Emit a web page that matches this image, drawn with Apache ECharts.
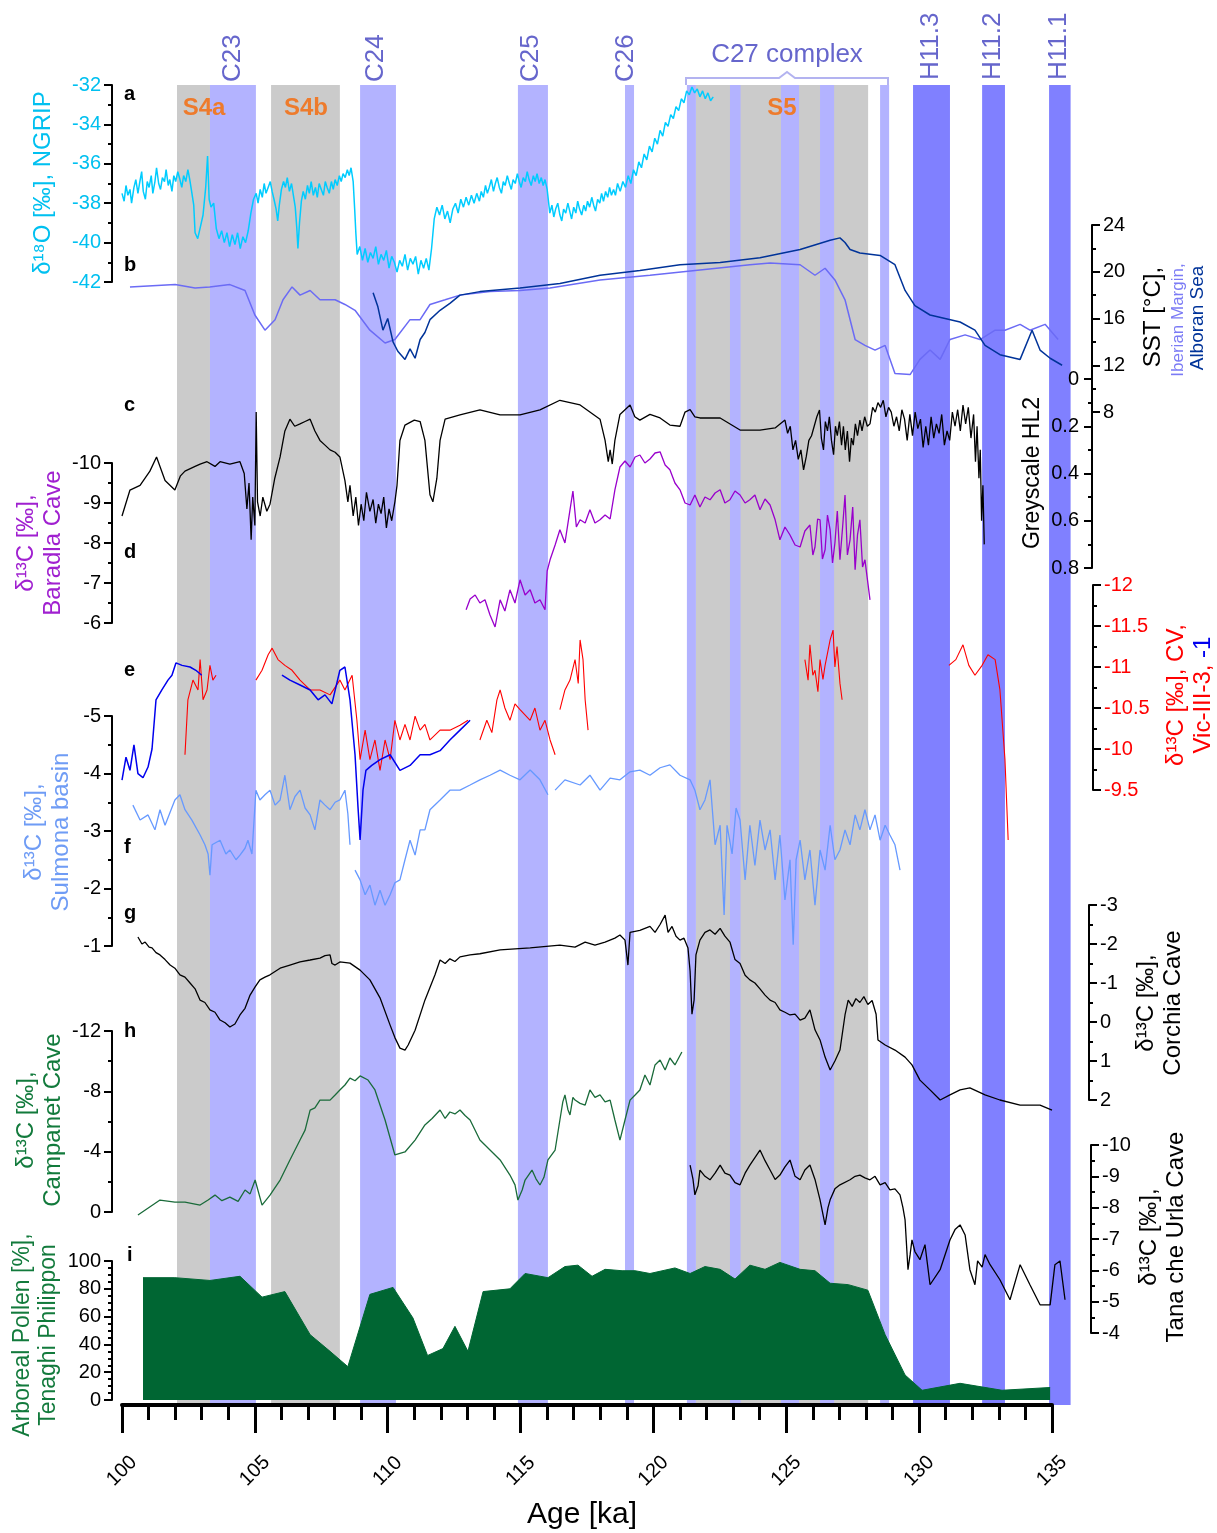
<!DOCTYPE html>
<html><head><meta charset="utf-8">
<script src="https://cdn.jsdelivr.net/npm/echarts/dist/echarts.min.js"></script>
<style>html,body{margin:0;padding:0;background:#fff}#c{width:1217px;height:1533px}</style>
</head><body><div id="c"></div>
<script>
const FONT = '"Liberation Sans", Arial, Helvetica, sans-serif';

// ---------- DATA (age in ka, value) ----------
const xTicks = [100,105,110,115,120,125,130,135];
const grayBands = [[102.07,103.31],[105.61,108.2],[121.6,128.08]];
const lightBands = [[103.31,105.04],[108.96,110.31],[114.9,116.03],[118.93,119.27],[121.26,121.6],[122.88,123.28],[124.8,125.48],[126.27,126.8],[128.53,128.87]];
const h11Bands = [[129.77,131.16],[132.37,133.23],[134.89,135.7]];

const ngrip = [
[100.0,-37.5],[100.08,-37.9],[100.15,-37.1],[100.22,-37.6],[100.3,-37.3],[100.36,-38.0],[100.45,-37.2],[100.52,-36.8],[100.6,-37.5],[100.66,-37.0],
[100.74,-36.4],[100.8,-37.4],[100.88,-37.8],[100.95,-36.9],[101.02,-37.2],[101.1,-36.6],[101.16,-37.5],[101.24,-36.9],[101.3,-36.2],[101.38,-37.0],
[101.45,-37.3],[101.52,-36.7],[101.6,-36.9],[101.66,-36.3],[101.74,-37.1],[101.8,-36.8],[101.88,-37.4],[101.95,-36.6],[102.02,-36.9],[102.1,-36.4],
[102.18,-36.8],[102.25,-37.2],[102.32,-36.6],[102.4,-36.9],[102.48,-36.3],[102.55,-36.8],[102.62,-37.4],[102.7,-38.1],[102.75,-39.5],[102.85,-39.8],
[102.95,-39.2],[103.05,-38.6],[103.15,-37.2],[103.22,-35.6],[103.28,-37.8],[103.35,-38.2],[103.45,-38.0],[103.55,-39.3],[103.65,-39.8],[103.75,-39.4],
[103.85,-40.0],[103.95,-39.5],[104.05,-40.2],[104.15,-39.6],[104.25,-40.1],[104.35,-39.5],[104.45,-40.3],[104.55,-39.7],[104.65,-40.0],[104.75,-39.4],
[104.85,-38.5],[104.95,-37.8],[105.05,-37.5],[105.12,-38.0],[105.2,-37.3],[105.28,-37.7],[105.35,-37.0],[105.42,-37.5],[105.5,-37.2],[105.58,-36.9],
[105.65,-37.4],[105.72,-37.8],[105.8,-38.3],[105.86,-38.9],[105.92,-38.1],[106.0,-37.3],[106.08,-36.9],[106.15,-37.2],[106.22,-36.7],[106.3,-37.4],
[106.38,-37.0],[106.45,-37.6],[106.52,-38.2],[106.58,-39.3],[106.62,-40.3],[106.68,-39.0],[106.75,-37.9],[106.82,-37.4],[106.9,-37.8],[106.98,-37.1],
[107.05,-37.5],[107.12,-36.9],[107.2,-37.6],[107.28,-37.2],[107.35,-37.7],[107.42,-37.0],[107.5,-37.3],[107.58,-37.6],[107.65,-36.9],[107.72,-37.2],
[107.8,-37.5],[107.88,-36.9],[107.95,-37.3],[108.02,-36.8],[108.1,-37.1],[108.18,-36.6],[108.25,-36.9],[108.32,-36.5],[108.4,-36.7],[108.48,-36.3],
[108.55,-36.6],[108.62,-36.2],[108.7,-36.9],[108.76,-38.4],[108.8,-39.5],[108.85,-40.6],[108.95,-40.2],[109.05,-40.9],[109.15,-40.3],[109.25,-41.0],
[109.35,-40.5],[109.45,-40.8],[109.55,-40.2],[109.65,-41.1],[109.75,-40.6],[109.85,-40.9],[109.95,-40.4],[110.05,-41.3],[110.15,-40.7],[110.25,-41.0],
[110.35,-41.5],[110.45,-40.9],[110.55,-41.2],[110.65,-40.6],[110.75,-41.4],[110.85,-40.8],[110.95,-41.1],[111.05,-40.7],[111.15,-41.6],[111.25,-40.9],
[111.35,-41.3],[111.45,-40.8],[111.55,-41.4],[111.65,-40.3],[111.75,-38.8],[111.85,-38.2],[111.95,-38.6],[112.05,-38.1],[112.15,-38.8],[112.25,-38.4],
[112.35,-39.0],[112.45,-38.3],[112.55,-38.0],[112.65,-38.5],[112.75,-37.8],[112.85,-38.2],[112.95,-37.7],[113.05,-38.1],[113.15,-37.6],[113.25,-38.0],
[113.35,-37.5],[113.45,-37.9],[113.52,-37.4],[113.6,-37.7],[113.68,-37.1],[113.75,-37.5],[113.82,-37.2],[113.9,-36.8],[113.98,-37.4],[114.05,-37.0],
[114.12,-36.7],[114.2,-37.2],[114.28,-37.5],[114.35,-36.9],[114.42,-37.1],[114.5,-36.6],[114.58,-37.0],[114.65,-37.3],[114.72,-36.8],[114.8,-37.0],
[114.88,-36.5],[114.95,-36.9],[115.02,-37.2],[115.1,-36.7],[115.18,-36.9],[115.25,-36.4],[115.32,-36.8],[115.4,-37.1],[115.48,-36.6],[115.55,-36.9],
[115.62,-36.5],[115.7,-37.0],[115.78,-36.7],[115.85,-37.1],[115.92,-36.8],[116.0,-37.3],[116.05,-37.9],[116.1,-38.5],[116.18,-38.1],[116.25,-38.7],
[116.32,-38.3],[116.4,-38.0],[116.48,-38.6],[116.55,-38.9],[116.62,-38.3],[116.7,-38.5],[116.78,-38.0],[116.85,-38.4],[116.92,-38.8],[117.0,-38.2],
[117.08,-38.5],[117.15,-37.9],[117.22,-38.3],[117.3,-38.6],[117.38,-38.1],[117.45,-38.4],[117.52,-37.9],[117.6,-38.2],[117.68,-37.7],[117.75,-38.1],
[117.82,-38.4],[117.9,-37.8],[117.98,-38.0],[118.05,-37.5],[118.12,-37.9],[118.2,-37.4],[118.28,-37.7],[118.35,-37.2],[118.42,-37.6],[118.5,-37.3],
[118.57,-37.6],[118.65,-37.0],[118.75,-37.4],[118.85,-36.9],[118.95,-37.2],[119.05,-36.6],[119.15,-37.0],[119.25,-36.3],[119.35,-36.6],[119.45,-35.9],
[119.55,-36.2],[119.65,-35.5],[119.75,-35.8],[119.85,-35.1],[119.95,-35.4],[120.05,-34.7],[120.15,-35.0],[120.25,-34.3],[120.35,-34.6],[120.45,-33.9],
[120.55,-34.1],[120.65,-33.5],[120.75,-33.7],[120.85,-33.1],[120.95,-33.3],[121.05,-32.7],[121.15,-32.9],[121.25,-32.3],[121.35,-32.5],[121.45,-32.1],
[121.55,-32.4],[121.65,-32.2],[121.75,-32.6],[121.85,-32.3],[121.95,-32.7],[122.05,-32.4],[122.15,-32.8],[122.25,-32.6]
];

const sstIberian = [
[100.3,18.7],[102.0,18.9],[102.75,18.6],[103.3,18.7],[104.06,18.9],[104.63,18.4],[105.0,16.3],[105.38,15.0],[105.76,15.9],[106.06,17.6],
[106.4,18.7],[106.7,18.0],[107.08,18.4],[107.45,17.6],[108.02,17.6],[108.39,17.2],[108.77,16.7],[109.33,15.0],[109.9,13.9],[110.27,14.2],
[110.84,15.9],[111.22,15.9],[111.59,17.2],[112.16,17.6],[112.72,18.0],[113.85,18.3],[114.98,18.4],[116.11,18.6],[117.99,19.3],[119.87,19.7],
[121.75,20.15],[123.63,20.6],[124.39,20.75],[125.52,20.6],[126.08,19.7],[126.46,20.3],[126.83,19.3],[127.21,17.6],[127.59,14.2],[127.96,13.7],
[128.34,13.3],[128.72,13.7],[129.09,11.3],[129.66,11.2],[130.03,12.5],[130.41,13.3],[130.79,12.5],[131.16,14.2],[131.73,14.6],[132.29,14.2],
[132.86,15.0],[133.23,15.0],[133.8,15.5],[134.17,15.0],[134.74,15.5],[135.23,14.2]
];

const sstAlboran = [
[109.45,18.2],[109.63,17.0],[109.82,15.0],[110.0,16.0],[110.2,14.0],[110.38,13.2],[110.65,12.5],[110.84,13.4],[111.03,12.6],[111.22,14.2],
[111.4,14.8],[111.59,15.9],[111.97,16.7],[112.34,17.3],[112.72,18.0],[113.47,18.3],[114.98,18.6],[116.48,19.0],[117.99,19.7],[119.49,20.1],
[121.0,20.6],[122.51,20.8],[124.01,21.2],[125.52,21.9],[126.65,22.7],[127.02,22.9],[127.21,22.5],[127.4,21.9],[127.77,21.6],[128.53,21.4],
[129.09,20.6],[129.47,18.4],[129.84,17.1],[130.41,16.3],[131.54,15.7],[132.1,15.0],[132.48,13.7],[133.04,12.9],[133.8,12.5],[134.25,15.0],
[134.55,13.3],[134.93,12.6],[135.38,12.0]
];

const greyscale = [
[100.0,0.58],[100.3,0.47],[100.68,0.45],[101.05,0.39],[101.3,0.33],[101.62,0.43],[101.99,0.47],[102.2,0.41],[102.37,0.39],[102.75,0.37],
[102.94,0.36],[103.2,0.35],[103.5,0.37],[103.69,0.35],[104.06,0.36],[104.44,0.35],[104.6,0.40],[104.7,0.55],[104.78,0.44],[104.86,0.68],
[104.92,0.50],[105.0,0.62],[105.05,0.14],[105.1,0.52],[105.2,0.58],[105.3,0.50],[105.45,0.56],[105.57,0.53],[105.75,0.42],[105.95,0.33],
[106.13,0.22],[106.32,0.17],[106.5,0.20],[106.7,0.19],[106.89,0.18],[107.08,0.17],[107.26,0.22],[107.45,0.26],[107.64,0.28],[107.83,0.30],
[108.02,0.31],[108.2,0.33],[108.39,0.43],[108.5,0.52],[108.58,0.45],[108.7,0.58],[108.8,0.50],[108.9,0.62],[109.0,0.53],[109.1,0.60],
[109.2,0.48],[109.33,0.56],[109.45,0.51],[109.55,0.61],[109.65,0.53],[109.75,0.57],[109.85,0.50],[109.95,0.63],[110.05,0.55],[110.15,0.60],
[110.27,0.52],[110.35,0.45],[110.46,0.26],[110.65,0.195],[111.0,0.174],[111.22,0.18],[111.4,0.26],[111.59,0.49],[111.7,0.52],[111.85,0.42],
[111.97,0.26],[112.16,0.17],[112.72,0.152],[113.47,0.131],[114.23,0.152],[114.98,0.152],[115.73,0.131],[116.48,0.09],[117.24,0.11],[117.99,0.17],
[118.18,0.26],[118.3,0.35],[118.37,0.30],[118.45,0.36],[118.55,0.26],[118.74,0.15],[119.12,0.11],[119.3,0.16],[119.49,0.174],[119.87,0.15],
[120.25,0.165],[120.62,0.195],[121.0,0.20],[121.19,0.14],[121.38,0.13],[121.56,0.16],[121.75,0.165],[122.51,0.165],[123.26,0.216],[124.01,0.216],
[124.58,0.207],[124.95,0.174],[125.05,0.23],[125.15,0.20],[125.25,0.30],[125.35,0.26],[125.45,0.34],[125.55,0.30],[125.65,0.385],[125.75,0.33],
[125.85,0.26],[125.95,0.24],[126.05,0.20],[126.15,0.16],[126.25,0.131],[126.32,0.25],[126.4,0.30],[126.47,0.18],[126.55,0.22],[126.62,0.16],
[126.7,0.26],[126.78,0.32],[126.85,0.20],[126.92,0.24],[127.0,0.18],[127.08,0.28],[127.15,0.20],[127.22,0.30],[127.3,0.22],[127.38,0.35],
[127.45,0.25],[127.52,0.28],[127.6,0.19],[127.68,0.24],[127.77,0.174],[127.85,0.22],[127.95,0.16],[128.05,0.20],[128.15,0.19],[128.25,0.12],
[128.35,0.14],[128.45,0.10],[128.55,0.12],[128.65,0.09],[128.75,0.16],[128.85,0.12],[128.95,0.14],[129.05,0.20],[129.15,0.16],[129.25,0.22],
[129.35,0.13],[129.45,0.17],[129.55,0.26],[129.65,0.15],[129.75,0.24],[129.85,0.14],[129.95,0.21],[130.05,0.17],[130.15,0.29],[130.25,0.20],
[130.35,0.28],[130.45,0.16],[130.55,0.25],[130.65,0.19],[130.75,0.23],[130.85,0.15],[130.95,0.28],[131.05,0.22],[131.15,0.26],[131.25,0.14],
[131.35,0.20],[131.45,0.13],[131.55,0.22],[131.65,0.11],[131.75,0.19],[131.85,0.12],[131.95,0.25],[132.05,0.15],[132.12,0.35],[132.18,0.20],
[132.25,0.42],[132.3,0.30],[132.35,0.60],[132.4,0.45],[132.45,0.70]
];

const baradla = [
[112.95,-6.33],[113.1,-6.6],[113.29,-6.7],[113.47,-6.5],[113.66,-6.58],[113.85,-6.2],[114.04,-5.9],[114.23,-6.58],[114.41,-6.3],[114.6,-6.83],
[114.79,-6.5],[114.98,-7.08],[115.17,-6.7],[115.36,-6.83],[115.54,-6.5],[115.73,-6.58],[115.92,-6.33],[116.0,-7.3],[116.11,-7.58],[116.3,-7.95],
[116.48,-8.33],[116.67,-8.0],[116.86,-8.83],[116.97,-9.3],[117.1,-8.4],[117.24,-8.58],[117.43,-8.5],[117.61,-8.83],[117.8,-8.5],[117.99,-8.58],
[118.18,-8.7],[118.37,-8.6],[118.55,-9.33],[118.74,-9.9],[118.93,-10.05],[119.12,-9.9],[119.31,-10.15],[119.49,-10.2],[119.68,-10.0],[119.87,-10.1],
[120.06,-10.25],[120.25,-10.28],[120.44,-9.95],[120.62,-9.83],[120.81,-9.5],[121.0,-9.33],[121.19,-9.0],[121.38,-8.95],[121.56,-9.2],[121.75,-8.9],
[121.94,-9.15],[122.13,-9.08],[122.32,-9.25],[122.51,-9.33],[122.69,-9.0],[122.88,-9.08],[123.07,-9.3],[123.26,-9.2],[123.45,-9.0],[123.63,-9.08],
[123.82,-9.2],[124.01,-8.83],[124.2,-9.1],[124.39,-8.95],[124.58,-8.58],[124.76,-8.08],[124.95,-8.4],[125.14,-8.2],[125.33,-7.95],[125.52,-7.9],
[125.7,-8.3],[125.89,-8.45],[126.0,-7.7],[126.08,-7.9],[126.18,-8.6],[126.27,-8.58],[126.36,-7.6],[126.46,-7.83],[126.55,-8.7],[126.65,-8.33],
[126.74,-7.5],[126.83,-8.0],[126.92,-8.8],[127.02,-7.58],[127.12,-8.4],[127.21,-9.2],[127.3,-7.7],[127.4,-8.08],[127.5,-8.9],[127.59,-7.33],
[127.68,-8.2],[127.77,-8.58],[127.87,-7.4],[127.96,-7.58],[128.15,-6.58]
];

// CV (red) and Vic-III-3 (blue), null separates sections
const cv = [
[102.37,-9.93],[102.48,-10.6],[102.67,-10.84],[102.86,-10.72],[102.94,-11.09],[103.05,-10.6],[103.2,-10.72],[103.31,-11.02],[103.42,-10.84],[103.54,-10.9],
null,
[105.04,-10.84],[105.27,-10.96],[105.5,-11.15],[105.65,-11.23],[105.87,-11.09],[106.13,-11.02],[106.4,-10.96],[106.7,-10.84],[107.08,-10.72],[107.45,-10.72],
[107.83,-10.66],[108.2,-10.84],[108.39,-10.72],[108.66,-10.9],[108.84,-10.35],[108.96,-9.87],[109.15,-10.23],[109.33,-9.87],[109.52,-10.11],[109.71,-9.74],
[109.9,-10.11],[110.09,-9.87],[110.27,-10.35],[110.46,-10.11],[110.65,-10.3],[110.84,-10.11],[111.03,-10.4],[111.22,-10.23],[111.4,-10.3],[111.59,-10.11],
[111.97,-10.23],[112.34,-10.23],[112.72,-10.29],[113.02,-10.35],
null,
[113.47,-10.11],[113.73,-10.35],[113.92,-10.2],[114.11,-10.6],[114.23,-10.72],[114.41,-10.5],[114.6,-10.35],[114.79,-10.55],[114.98,-10.48],[115.36,-10.35],
[115.54,-10.5],[115.73,-10.23],[115.92,-10.35],[116.11,-10.11],[116.3,-9.93],
null,
[116.48,-10.48],[116.67,-10.72],[116.86,-10.84],[117.05,-11.09],[117.17,-10.8],[117.24,-11.33],[117.35,-11.09],[117.43,-10.6],[117.54,-10.23],
null,
[125.7,-11.09],[125.82,-10.84],[125.89,-11.27],[126.0,-10.9],[126.08,-10.96],[126.19,-10.7],[126.27,-11.09],[126.38,-10.85],[126.46,-11.02],[126.57,-11.2],
[126.65,-11.33],[126.76,-11.45],[126.83,-11.0],[126.91,-11.25],[127.02,-10.8],[127.1,-10.6],
null,
[131.12,-11.02],[131.38,-11.09],[131.65,-11.27],[131.87,-11.02],[132.1,-10.9],[132.37,-11.02],[132.59,-11.15],[132.86,-11.09],[133.04,-10.72],[133.23,-9.87],[133.35,-8.89]
];
const vic = [
[100.0,-9.62],[100.15,-9.9],[100.3,-9.74],[100.45,-10.05],[100.6,-9.7],[100.79,-9.65],[100.98,-9.78],[101.13,-10.0],[101.28,-10.6],[101.5,-10.72],
[101.73,-10.84],[101.88,-10.9],[102.03,-11.05],[102.26,-11.02],[102.56,-11.0],[102.78,-10.96],[103.0,-10.9],
null,
[106.02,-10.9],[106.32,-10.84],[106.7,-10.78],[107.08,-10.72],[107.38,-10.6],[107.64,-10.66],[107.9,-10.55],[108.2,-10.96],[108.39,-11.0],[108.58,-10.6],
[108.77,-9.93],[108.88,-9.3],[108.96,-8.89],[109.07,-9.5],[109.18,-9.74],[109.4,-9.8],[109.71,-9.87],[110.09,-9.93],[110.46,-9.74],[110.84,-9.8],
[111.22,-9.93],[111.59,-9.93],[111.97,-9.98],[112.34,-10.11],[112.72,-10.23],[113.1,-10.35]
];

const sulmona = [
[100.41,-3.45],[100.68,-3.19],[100.98,-3.28],[101.24,-3.02],[101.43,-3.37],[101.62,-3.1],[101.99,-3.54],[102.18,-3.63],[102.37,-3.37],[102.63,-3.19],
[102.94,-2.93],[103.12,-2.76],[103.24,-2.6],[103.31,-2.23],[103.39,-2.76],[103.69,-2.84],[103.91,-2.6],[104.06,-2.67],[104.29,-2.5],[104.44,-2.58],
[104.63,-2.7],[104.74,-2.84],[104.89,-2.6],[105.04,-3.71],[105.19,-3.54],[105.38,-3.63],[105.57,-3.71],[105.76,-3.45],[105.95,-3.54],[106.13,-3.97],
[106.32,-3.37],[106.51,-3.6],[106.7,-3.71],[106.89,-3.4],[107.08,-3.28],[107.26,-3.02],[107.45,-3.54],[107.64,-3.45],[107.83,-3.37],[108.02,-3.5],
[108.2,-3.54],[108.39,-3.71],[108.5,-3.3],[108.58,-2.76],
null,
[108.77,-2.32],[108.96,-2.15],[109.15,-1.89],[109.33,-2.06],[109.52,-1.71],[109.71,-1.97],[109.9,-1.71],[110.09,-1.89],[110.27,-2.1],[110.46,-2.15],
[110.65,-2.5],[110.84,-2.84],[111.03,-2.58],[111.22,-3.02],[111.4,-3.02],[111.59,-3.37],[111.97,-3.54],[112.34,-3.71],[112.72,-3.71],[113.1,-3.8],
[113.47,-3.89],[113.85,-3.97],[114.23,-4.06],[114.6,-3.97],[114.98,-3.89],[115.36,-4.06],[115.73,-3.89],[116.03,-3.63],
null,
[116.3,-3.71],[116.67,-3.89],[117.24,-3.8],[117.61,-3.97],[117.99,-3.71],[118.37,-3.92],[118.74,-3.89],[119.12,-4.03],[119.49,-4.06],[119.87,-3.97],
[120.25,-4.1],[120.62,-4.15],[121.0,-3.97],[121.38,-3.89],[121.56,-3.71],[121.75,-3.37],[121.94,-3.54],[122.13,-3.89],[122.32,-2.76],[122.51,-3.1],
[122.66,-1.54],[122.77,-3.1],[122.96,-2.6],[123.11,-3.4],[123.26,-3.19],[123.45,-2.15],[123.63,-3.1],[123.82,-2.4],[124.01,-3.19],[124.2,-2.67],
[124.39,-3.02],[124.58,-2.15],[124.76,-2.93],[124.95,-1.8],[125.14,-2.5],[125.26,-1.02],[125.37,-2.5],[125.52,-2.84],[125.7,-2.15],[125.89,-2.67],
[126.08,-1.71],[126.27,-2.67],[126.46,-2.32],[126.65,-3.1],[126.83,-2.5],[127.02,-2.67],[127.21,-3.02],[127.4,-2.76],[127.59,-3.28],[127.77,-3.02],
[127.96,-3.37],[128.15,-3.02],[128.34,-3.28],[128.53,-2.84],[128.72,-3.1],[128.9,-2.93],[129.09,-2.76],[129.28,-2.32]
];

const corchia = [
[100.6,-2.18],[100.75,-2.0],[100.87,-2.05],[101.02,-1.92],[101.13,-1.9],[101.28,-1.78],[101.43,-1.72],[101.62,-1.6],[101.81,-1.46],[101.99,-1.38],
[102.18,-1.21],[102.37,-1.15],[102.56,-1.0],[102.75,-0.85],[102.94,-0.56],[103.12,-0.5],[103.31,-0.31],[103.5,-0.25],[103.69,-0.05],[103.88,0.02],
[104.06,0.13],[104.25,0.05],[104.44,-0.18],[104.63,-0.35],[104.82,-0.69],[105.01,-0.9],[105.19,-1.08],[105.38,-1.15],[105.57,-1.21],[105.95,-1.38],
[106.32,-1.46],[106.7,-1.54],[107.08,-1.59],[107.45,-1.64],[107.64,-1.7],[107.83,-1.72],[107.9,-1.5],[108.02,-1.46],[108.2,-1.54],[108.58,-1.51],
[108.96,-1.33],[109.33,-1.08],[109.71,-0.62],[110.09,0.08],[110.27,0.4],[110.46,0.67],[110.65,0.72],[110.77,0.59],[111.03,0.21],[111.4,-0.56],
[111.78,-1.21],[111.97,-1.59],[112.16,-1.5],[112.34,-1.62],[112.53,-1.55],[112.72,-1.67],[113.1,-1.72],[113.47,-1.75],[114.23,-1.85],[115.36,-1.9],
[116.48,-1.97],[117.05,-1.92],[117.43,-2.05],[117.8,-1.97],[118.18,-2.05],[118.55,-2.15],[118.74,-2.23],[118.93,-2.1],[119.04,-1.46],[119.12,-2.3],
[119.49,-2.35],[119.87,-2.45],[120.06,-2.3],[120.25,-2.5],[120.44,-2.74],[120.55,-2.3],[120.7,-2.45],[120.85,-2.2],[121.0,-2.1],[121.15,-2.15],
[121.3,-1.9],[121.38,-1.3],[121.45,-0.2],[121.53,-0.56],[121.6,-1.72],[121.75,-2.1],[121.94,-2.3],[122.13,-2.36],[122.32,-2.25],[122.51,-2.4],
[122.69,-2.2],[122.88,-2.05],[123.07,-1.6],[123.26,-1.5],[123.45,-1.2],[123.63,-1.08],[123.82,-1.0],[124.01,-0.85],[124.2,-0.69],[124.39,-0.56],
[124.58,-0.5],[124.76,-0.31],[124.95,-0.25],[125.14,-0.18],[125.33,-0.2],[125.52,-0.05],[125.7,-0.1],[125.89,-0.31],[126.08,0.2],[126.27,0.46],
[126.46,0.9],[126.65,1.23],[126.83,1.0],[127.02,0.72],[127.21,-0.18],[127.33,-0.56],[127.48,-0.4],[127.62,-0.6],[127.77,-0.5],[127.92,-0.65],
[128.07,-0.45],[128.23,-0.55],[128.38,-0.2],[128.45,0.46],[128.72,0.59],[129.09,0.72],[129.47,0.9],[129.73,1.1],[130.03,1.49],[130.41,1.74],
[130.79,2.0],[131.16,1.87],[131.54,1.74],[131.91,1.69],[132.48,1.87],[133.04,2.0],[133.8,2.13],[134.55,2.13],[135.0,2.26]
];

const campanet = [
[100.6,0.2],[101.43,-0.79],[101.99,-0.66],[102.37,-0.66],[102.94,-0.46],[103.24,-0.8],[103.5,-1.12],[103.76,-0.75],[104.06,-0.99],[104.37,-0.7],
[104.63,-1.46],[104.82,-1.2],[105.01,-2.12],[105.27,-0.46],[105.57,-1.12],[105.95,-2.12],[106.32,-3.45],[106.7,-4.77],[106.89,-5.43],[107.08,-6.76],
[107.26,-6.9],[107.45,-7.42],[107.83,-7.42],[108.02,-7.76],[108.2,-8.09],[108.39,-8.42],[108.58,-8.88],[108.77,-8.7],[108.96,-9.02],[109.26,-8.75],
[109.52,-8.09],[109.9,-6.1],[110.27,-3.78],[110.65,-3.98],[111.03,-4.77],[111.4,-5.77],[111.67,-6.2],[111.97,-6.76],[112.16,-6.2],[112.34,-6.63],
[112.53,-6.5],[112.72,-6.76],[112.91,-6.4],[113.1,-6.1],[113.47,-4.77],[113.85,-4.11],[114.23,-3.45],[114.6,-2.45],[114.79,-1.8],[114.9,-0.79],
[115.06,-1.46],[115.17,-2.12],[115.43,-2.78],[115.58,-2.2],[115.73,-1.79],[115.88,-2.3],[116.03,-3.45],[116.3,-4.11],[116.48,-6.1],[116.59,-7.3],
[116.67,-7.76],[116.78,-6.8],[116.86,-6.43],[116.97,-7.6],[117.05,-7.42],[117.24,-7.2],[117.43,-7.09],[117.61,-8.09],[117.8,-7.6],[117.99,-7.76],
[118.18,-7.3],[118.37,-7.42],[118.55,-6.1],[118.74,-4.77],[118.93,-6.1],[119.12,-7.42],[119.31,-7.76],[119.49,-8.09],[119.68,-9.08],[119.87,-8.42],
[120.06,-9.75],[120.25,-10.08],[120.44,-9.41],[120.62,-10.21],[120.81,-9.75],[121.07,-10.61]
];

const tana = [
[121.38,-9.36],[121.49,-8.9],[121.56,-8.41],[121.68,-8.7],[121.75,-9.2],[121.94,-9.0],[122.13,-8.89],[122.32,-9.1],[122.51,-9.36],[122.69,-9.1],
[122.88,-9.04],[123.07,-8.8],[123.26,-8.73],[123.45,-9.1],[123.63,-9.36],[123.82,-9.6],[124.01,-9.84],[124.2,-9.5],[124.39,-9.2],[124.58,-8.9],
[124.76,-9.04],[124.95,-9.3],[125.14,-9.52],[125.33,-9.0],[125.52,-8.89],[125.7,-9.2],[125.89,-9.36],[126.08,-8.9],[126.27,-8.25],[126.46,-7.45],
[126.57,-8.0],[126.65,-8.25],[126.83,-8.6],[127.02,-8.73],[127.4,-8.89],[127.59,-9.0],[127.77,-9.04],[127.96,-8.95],[128.15,-8.89],[128.34,-9.0],
[128.53,-8.73],[128.72,-8.8],[128.9,-8.57],[129.09,-8.6],[129.28,-8.41],[129.39,-8.0],[129.47,-7.61],[129.58,-6.02],[129.66,-6.5],[129.73,-6.97],
[129.84,-6.6],[130.03,-6.34],[130.22,-6.82],[130.41,-5.54],[130.79,-6.02],[131.16,-6.97],[131.35,-7.3],[131.54,-7.45],[131.73,-7.13],[131.91,-6.02],
[132.1,-5.54],[132.2,-6.3],[132.37,-6.1],[132.48,-6.5],[132.67,-6.18],[133.04,-5.7],[133.42,-5.06],[133.8,-6.18],[134.17,-5.54],[134.55,-4.9],
[134.93,-4.9],[135.11,-6.18],[135.3,-6.3],[135.49,-5.06]
];

const pollen = [
[100.79,88],[101.99,88],[103.31,86],[104.44,89],[105.27,74],[106.13,78],[107.08,47],[107.83,35],[108.5,24],[109.33,76],
[110.2,81],[110.95,59],[111.5,32],[112.08,37],[112.53,53],[113.02,35],[113.59,78],[114.6,80],[115.17,91],[116.03,88],
[116.67,96],[117.16,97],[117.69,89],[118.18,94],[118.82,93],[119.31,93],[119.87,91],[120.81,95],[121.38,91],[121.94,96],
[122.51,94],[123.07,87],[123.63,97],[124.2,94],[124.76,99],[125.52,94],[126.08,93],[126.65,84],[127.33,83],[128.07,79],
[128.72,47],[129.47,18],[130.11,7],[131.54,12],[133.12,7],[134.93,9]
];

// ---------- LAYOUT ----------
const L = 122, W = 930, KA0 = 100, KA1 = 135, KAX = 136;
const pxPerKa = W / (KA1 - KA0);
const WX = (KAX - KA0) * pxPerKa;

function segs(arr){ const out=[]; let cur=[]; arr.forEach(p=>{ if(p===null){ if(cur.length) out.push(cur); cur=[]; } else cur.push(p); }); if(cur.length) out.push(cur); return out; }

const panelTops = [85, 85, 225, 379, 463, 585, 716, 905, 1031, 1145, 1261, 1300];
const panelHeights = [1320, 197, 187, 189, 160, 205, 230, 195, 181, 188, 139, 105];
const grids = panelTops.map((t,i)=>({left:L, top:t, width: i===11 ? W : WX, height:panelHeights[i]}));

const xAxes = grids.map((g,i)=>({
  type:'value', gridIndex:i, min:KA0, max:KAX, show:false, splitLine:{show:false}
}));
xAxes[11] = {
  type:'value', gridIndex:11, min:KA0, max:KA1, interval:5, show:true, position:'bottom', z:20,
  axisLine:{show:true, onZero:false, lineStyle:{color:'#000', width:4}},
  axisTick:{show:true, length:28, lineStyle:{color:'#000', width:3}},
  minorTick:{show:true, splitNumber:5, length:15, lineStyle:{color:'#000', width:3}},
  splitLine:{show:false},
  axisLabel:{show:true, rotate:45, fontSize:20, fontFamily:FONT, color:'#000', margin:66, align:'center', verticalAlign:'middle',
    customValues: xTicks}
};

const RSHIFT = WX - W;
function yax(gi, o){
  const inside = !!o.inside;
  const off = o.pos === 'right' ? o.offset - RSHIFT : o.offset;
  return {
    type:'value', gridIndex:gi, min:o.min, max:o.max, interval:o.interval, inverse:!!o.inverse,
    position:o.pos, offset:off, z:30,
    splitLine:{show:false},
    axisLine:{show:true, onZero:false, lineStyle:{color:'#000', width:2}},
    axisTick:{show:true, length:8, inside:inside, lineStyle:{color:'#000', width:2}},
    minorTick:{show:true, splitNumber:o.minor||2, length:4, lineStyle:{color:'#000', width:2}},
    axisLabel:{show:true, inside:inside, color:o.color||'#000', fontSize:20, fontFamily:FONT, margin:o.margin||11}
  };
}
const yAxes = [
  {type:'value', gridIndex:0, min:0, max:1, show:false},
  yax(1,{min:-42,max:-32,interval:2,pos:'left',offset:10,color:'#00c0f0'}),
  yax(2,{min:8,max:24,interval:4,pos:'right',offset:40}),
  yax(3,{min:0,max:0.8,interval:0.2,inverse:true,pos:'right',offset:40,inside:true,margin:13}),
  yax(4,{min:-10,max:-6,interval:1,inverse:true,pos:'left',offset:10}),
  yax(5,{min:-12,max:-9.5,interval:0.5,inverse:true,pos:'right',offset:41,color:'#ff0000'}),
  yax(6,{min:-5,max:-1,interval:1,inverse:true,pos:'left',offset:10}),
  yax(7,{min:-3,max:2,interval:1,inverse:true,pos:'right',offset:37}),
  yax(8,{min:-12,max:0,interval:4,inverse:true,pos:'left',offset:10}),
  yax(9,{min:-10,max:-4,interval:1,inverse:true,pos:'right',offset:39}),
  yax(10,{min:0,max:100,interval:20,pos:'left',offset:10,minor:4}),
  {type:'value', gridIndex:11, min:0, max:1, show:false}
];

function line(data, gi, color, w, z){
  return {type:'line', xAxisIndex:gi, yAxisIndex:gi, data:data, symbol:'none', showSymbol:false, clip:false,
    silent:true, animation:false, z:z||3, lineStyle:{color:color, width:w||1.3}};
}

const bandData = [];
grayBands.forEach(b=>bandData.push([{xAxis:b[0], yAxis:0, itemStyle:{color:'#cbcbcb'}},{xAxis:b[1], yAxis:1}]));
lightBands.forEach(b=>bandData.push([{xAxis:b[0], yAxis:0, itemStyle:{color:'#b3b3ff'}},{xAxis:b[1], yAxis:1}]));
h11Bands.forEach(b=>bandData.push([{xAxis:b[0], yAxis:0, itemStyle:{color:'#8080ff'}},{xAxis:b[1], yAxis:1}]));

const series = [];
series.push({type:'line', xAxisIndex:0, yAxisIndex:0, data:[[100,0.5]], symbol:'none', lineStyle:{width:0, opacity:0}, silent:true, z:0,
  markArea:{silent:true, data:bandData, label:{show:false}}});
series.push(Object.assign(line(pollen,10,'#006633',1,2), {areaStyle:{color:'#006633', opacity:1}}));
series.push(line(ngrip,1,'#00ccff',1.5));
series.push(line(sstIberian,2,'#6b6bf5',1.5));
series.push(line(sstAlboran,2,'#003399',1.5));
series.push(line(greyscale,3,'#000000',1.3));
series.push(line(baradla,4,'#9900cc',1.3));
segs(cv).forEach(s=>series.push(line(s,5,'#ff0000',1.1)));
segs(vic).forEach(s=>series.push(line(s,5,'#0000ee',1.5)));
segs(sulmona).forEach(s=>series.push(line(s,6,'#6699ff',1.3)));
series.push(line(corchia,7,'#000000',1.3));
series.push(line(campanet,8,'#1a6b3a',1.3));
series.push(line(tana,9,'#000000',1.3));

// ---------- TEXT ----------
function ft(size, bold){ return (bold?'bold ':'') + size + 'px ' + FONT; }
function vtext(x, y, text, color, size, align){
  return {type:'text', x:x, y:y, rotation:Math.PI/2, silent:true, z:100,
    style:{text:text, fill:color, font:ft(size), align:align||'center', verticalAlign:'middle', lineHeight:Math.round(size*1.12)}};
}
function htext(x, y, text, color, size, bold, align){
  return {type:'text', x:x, y:y, silent:true, z:100,
    style:{text:text, fill:color, font:ft(size,bold), align:align||'center', verticalAlign:'middle'}};
}
const LBL = '#6666cc';
const graphics = [
  vtext(233,82,'C23',LBL,26,'left'), vtext(376,82,'C24',LBL,26,'left'), vtext(531,82,'C25',LBL,26,'left'),
  vtext(626,82,'C26',LBL,26,'left'), vtext(931,80,'H11.3',LBL,26,'left'), vtext(993,80,'H11.2',LBL,26,'left'),
  vtext(1059,80,'H11.1',LBL,26,'left'),
  htext(787,55,'C27 complex',LBL,26),
  {type:'polyline', silent:true, z:100, shape:{points:[[686,85],[686,78],[779,78],[787,72],[795,78],[888,78],[888,85]]},
    style:{stroke:'#b3b3f0', lineWidth:2, fill:null}},
  htext(204,108,'S4a','#ee7b2c',24,true), htext(306,108,'S4b','#ee7b2c',24,true), htext(782,108,'S5','#ee7b2c',24,true),
  htext(124,94,'a','#000',20,true,'left'), htext(124,265,'b','#000',20,true,'left'), htext(124,405,'c','#000',20,true,'left'),
  htext(124,552,'d','#000',20,true,'left'), htext(124,670,'e','#000',20,true,'left'), htext(124,847,'f','#000',20,true,'left'),
  htext(124,913,'g','#000',20,true,'left'), htext(124,1031,'h','#000',20,true,'left'), htext(127,1255,'i','#000',20,true,'left'),
  vtext(43,183,'δ¹⁸O [‰], NGRIP','#00c0f0',24),
  vtext(1153,317,'SST [°C],','#000',24), vtext(1178,320,'Iberian Margin,','#7b7bf5',17), vtext(1198,318,'Alboran Sea','#003399',19),
  vtext(1033,473,'Greyscale HL2','#000',23),
  vtext(40,543,'δ¹³C [‰],\nBaradla Cave','#a020d0',24),
  {type:'text', x:1190, y:695, rotation:Math.PI/2, silent:true, z:100,
    style:{text:'{r|δ¹³C [‰], CV,}\n{r|Vic-III-3, }{b|-1}', align:'center', verticalAlign:'middle',
      rich:{r:{fill:'#ff0000', font:ft(24), lineHeight:27}, b:{fill:'#0000ee', font:ft(24), lineHeight:27}}}},
  vtext(48,832,'δ¹³C [‰],\nSulmona basin','#6f9cf5',24),
  vtext(1160,1003,'δ¹³C [‰],\nCorchia Cave','#000',24),
  vtext(40,1120,'δ¹³C [‰],\nCampanet Cave','#127a3c',24),
  vtext(1163,1237,'δ¹³C [‰],\nTana che Urla Cave','#000',24),
  vtext(36,1335,'Arboreal Pollen [%],\nTenaghi Philippon','#127a3c',23),
  htext(582,1515,'Age [ka]','#000',30)
];

const chart = echarts.init(document.getElementById('c'), null, {renderer:'canvas'});
chart.setOption({
  animation:false,
  backgroundColor:'#ffffff',
  grid:grids, xAxis:xAxes, yAxis:yAxes, series:series, graphic:graphics
});
</script></body></html>
